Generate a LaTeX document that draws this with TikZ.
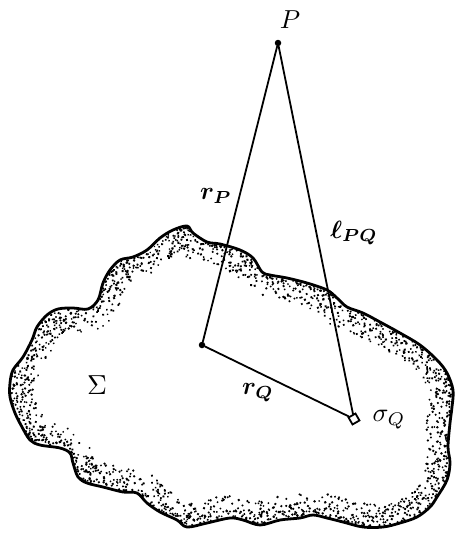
\documentclass[tikz,border=0pt]{standalone}
\usepackage{amsmath}
\usepackage{bm}
\usetikzlibrary{decorations.markings}
\tikzset{
  lbl/.style={inner sep=0pt, scale=2.5},
  toplbl/.style={inner sep=0pt, scale=2.6},
  ray/.style={line width=1.8pt, line cap=round},
  rim/.style={line width=2.8pt, line join=round},
  pointdot/.style={circle, fill=black, inner sep=0pt, minimum size=6.5pt},
  patch/.style={draw, line width=1.8pt, inner sep=0pt, minimum size=8pt, rotate=30, fill=white},
}
\def\blob{plot[smooth cycle, tension=0.55] coordinates{
(187,226) (193,233) (207,242) (220,244) (240,250) (253,258) (262,272) (270,275)
(287,278) (307,283) (327,290) (337,298) (347,307) (363,313) (380,322) (400,333)
(420,345) (437,360) (447,373) (453,390) (452,407) (450,423) (448,447) (450,463)
(447,480) (437,497) (430,507) (417,517) (400,523) (383,527) (363,527) (343,522)
(327,518) (313,515) (300,518) (280,520) (260,525) (243,520) (230,518) (207,523)
(187,527) (177,520) (160,512) (147,503) (137,493) (123,492) (103,487) (87,483)
(78,477) (73,463) (70,453) (60,448) (40,445) (30,440) (22,427) (15,413)
(10,397) (10,383) (13,370) (23,357) (32,340) (37,327) (47,315) (58,309)
(73,308) (88,309) (98,300) (103,283) (110,270) (120,260) (133,257) (147,250)
(160,238) (173,230)}}
\begin{document}
\begin{tikzpicture}[x=1pt,y=-1pt]
\useasboundingbox (0,0) rectangle (455,533);
% stippled band along the rim
\begin{scope}
  \clip \blob;
  \pgfmathsetseed{7}
  \path[decorate, decoration={markings,
    mark=between positions 0 and 1 step 0.7pt with {
      \pgfmathsetmacro\dd{1.5+22*rnd^1.4}
      \pgfmathsetmacro\tt{3*rnd-1.5}
      \pgfmathsetmacro\rr{0.95+0.45*rnd}
      \fill (\tt pt, -\dd pt) circle (\rr pt);
    }}] \blob;
\end{scope}
\draw[rim] \blob;
% points
\node[pointdot] (P) at (278,43) {};
\node[pointdot] (O) at (202,345) {};
\node[patch] (Q) at (354,419) {};
% connectors
\draw[ray] (P) -- (O);
\draw[ray] (O) -- (Q);
\draw[ray] (P) -- (Q);
% labels
\node[toplbl] (Plbl) at (290,20) {$P$};
\node[lbl] (rP) at (216,196) {$\bm{r}_{\bm{P}}$};
\node[lbl] (lPQ) at (354,233) {$\bm{\ell}_{\bm{PQ}}$};
\node[lbl] (rQ) at (258,393) {$\bm{r}_{\bm{Q}}$};
\node[lbl, scale=1.05] (sQ) at (389,420) {$\sigma_Q$};
\node[lbl, scale=1.1] (Sig) at (97,385) {$\Sigma$};
\end{tikzpicture}
\end{document}
